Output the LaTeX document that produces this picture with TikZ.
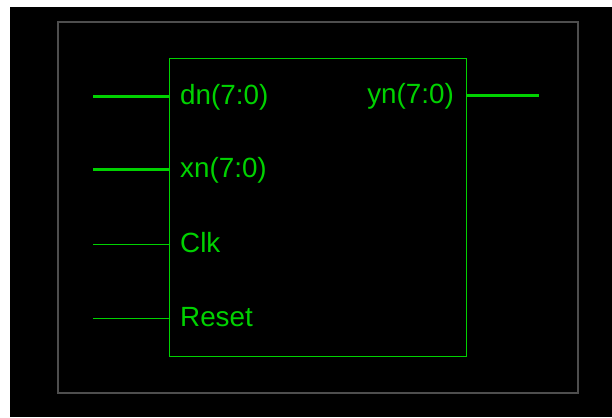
\documentclass[tikz,border=0pt]{standalone}
\usepackage{fontspec}
\setmainfont{Liberation Sans}
\definecolor{sig}{RGB}{0,210,0}
\definecolor{frm}{RGB}{78,78,78}
\begin{document}
\begin{tikzpicture}[x=1pt,y=1pt,
  pinlbl/.style={text=sig, font=\fontsize{27.8}{28}\selectfont, inner sep=0pt},
  bus/.style={draw=sig, line width=3pt},
  wire/.style={draw=sig, line width=1pt}]
\useasboundingbox (0,0) rectangle (612,417);
\fill[white] (0,0) rectangle (612,417);
\fill[black] (10,0) rectangle (612,410);
\draw[frm, line width=2pt] (57.5,24) rectangle (577.5,394.5);
\node[draw=sig, line width=1pt, minimum width=297pt, minimum height=298pt, inner sep=0pt, anchor=south west] (box) at (169,60) {};
% labels
\node[pinlbl, anchor=base west] (ldn) at (180,312) {dn(7:0)};
\node[pinlbl, anchor=base west] (lxn) at (180,239) {xn(7:0)};
\node[pinlbl, anchor=base west] (lclk) at (180,164) {Clk};
\node[pinlbl, anchor=base west] (lrst) at (180,90) {Reset};
\node[pinlbl, anchor=base east] (lyn) at (454,313) {yn(7:0)};
% free ends
\coordinate (edn) at (93,320);
\coordinate (exn) at (93,247);
\coordinate (eclk) at (93,172);
\coordinate (erst) at (93,98);
\coordinate (eyn) at (539,321);
\draw[bus] (edn) -- (edn -| box.west);
\draw[bus] (exn) -- (exn -| box.west);
\draw[wire] (eclk) -- (eclk -| box.west);
\draw[wire] (erst) -- (erst -| box.west);
\draw[bus] (eyn -| box.east) -- (eyn);
\end{tikzpicture}
\end{document}
